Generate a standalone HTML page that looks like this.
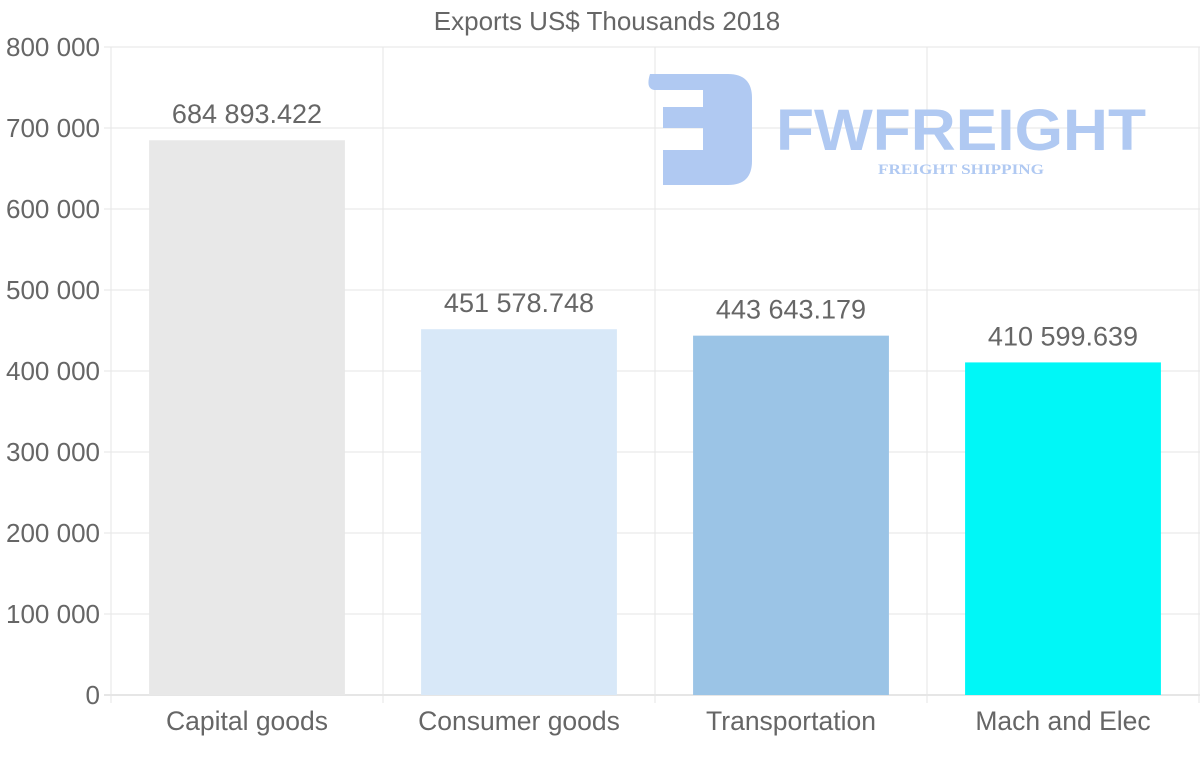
<!DOCTYPE html>
<html><head><meta charset="utf-8"><style>
html,body{margin:0;padding:0;background:#fff;}
svg{display:block;font-family:"Liberation Sans",sans-serif;}
</style></head><body>
<svg id="chart" width="1200" height="763" viewBox="0 0 1200 763">
<text x="607" y="30" text-anchor="middle" font-size="26" fill="#666">Exports US$ Thousands 2018</text>
<g id="grid"></g>
<g id="logo">
<path d="M650 74 L728 74 Q752 74 752 98 L752 161 Q752 185 728 185 L663 185 L663 150 L703 150 L703 128 L663 128 L663 107 L703 107 L703 90 L656 90 Q645 90 650 74 Z" fill="#b0c9f2"/>
<text x="776" y="150" font-size="58" font-weight="bold" fill="#b0c9f2" textLength="370" lengthAdjust="spacingAndGlyphs">FWFREIGHT</text>
<text x="878" y="174" font-size="15" font-weight="bold" font-family="Liberation Serif,serif" fill="#b0c9f2" textLength="166" lengthAdjust="spacingAndGlyphs">FREIGHT SHIPPING</text>
</g>
<g id="bars"></g>
<g id="labels"></g>
</svg>
<script>
const categories = ["Capital goods","Consumer goods","Transportation","Mach and Elec"];
const values = [684893.422, 451578.748, 443643.179, 410599.639];
const valueLabels = ["684 893.422","451 578.748","443 643.179","410 599.639"];
const yTicks = [0,100000,200000,300000,400000,500000,600000,700000,800000];
const yTickLabels = ["0","100 000","200 000","300 000","400 000","500 000","600 000","700 000","800 000"];
const colors = ["#e8e8e8","#d8e8f8","#9bc4e6","#00f7f7"];

const NS="http://www.w3.org/2000/svg";
const L=111,R=1199,T=47,B=695,yMax=800000;
const y=v=>B-(v/yMax)*(B-T);
const bandW=(R-L)/categories.length;
const x=i=>L+bandW*i;
function mk(tag,attrs,parent){const e=document.createElementNS(NS,tag);for(const k in attrs)e.setAttribute(k,attrs[k]);parent.appendChild(e);return e;}
const grid=document.getElementById('grid'),bars=document.getElementById('bars'),labels=document.getElementById('labels');
yTicks.forEach((t,i)=>{
  const ln=mk('line',{x1:104,x2:R+1,y1:y(t),y2:y(t),stroke:i===0?'#ccc':'#e6e6e6','stroke-width':1},grid);
  
  
  const tx=mk('text',{x:100,y:y(t)+9,'text-anchor':'end','font-size':26,fill:'#666'},labels);
  tx.textContent=yTickLabels[i];
  
  
});
for(let i=0;i<=categories.length;i++){
  const ln=mk('line',{x1:x(i),x2:x(i),y1:T,y2:B+8,stroke:'#e6e6e6','stroke-width':1},grid);
  
  
}
categories.forEach((c,i)=>{
  const bw=bandW*0.72,bx=x(i)+(bandW-bw)/2;
  const r=mk('rect',{x:bx,y:y(values[i]),width:bw,height:B-y(values[i]),fill:colors[i]},bars);
  
  
  const vl=mk('text',{x:x(i)+bandW/2,y:y(values[i])-17,'text-anchor':'middle','font-size':27,fill:'#666'},labels);
  vl.textContent=valueLabels[i];
  
  
  const cl=mk('text',{x:x(i)+bandW/2,y:730,'text-anchor':'middle','font-size':26.5,fill:'#666'},labels);
  cl.textContent=c;
  
  
});
</script>
</body></html>
